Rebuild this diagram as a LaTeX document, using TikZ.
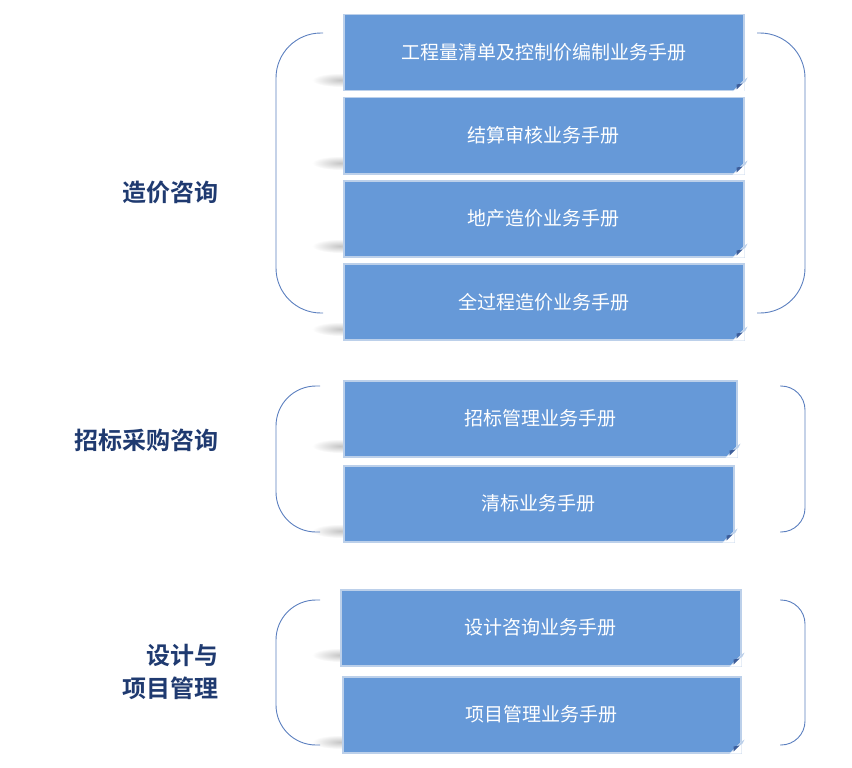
\documentclass[tikz,border=0pt]{standalone}
\usepackage{fontspec}
\newfontfamily\cjk{Noto Sans CJK SC}
\newfontfamily\cjkb{Noto Sans CJK SC Bold}
\begin{document}
\begin{tikzpicture}[x=1pt,y=-1pt,
  mbox/.style={draw=boxedge,line width=1.5pt,fill=boxfill,text=white,font=\cjk\fontsize{19}{22}\selectfont,inner sep=0pt,anchor=north west},
  brk/.style={draw=brk,line width=0.9pt},
  lbl/.style={text=lblc,font=\cjkb\fontsize{24}{30}\selectfont,align=right,anchor=east}]
\definecolor{boxfill}{HTML}{6699D8}
\definecolor{boxedge}{HTML}{BCD0EA}
\definecolor{brk}{HTML}{5B7FBF}
\definecolor{lblc}{HTML}{1F3A70}
\definecolor{foldc}{HTML}{3E5E9A}
\useasboundingbox (0,0) rectangle (852,768);
\foreach \y in {80,163,246,329,446,531,655,742}{
  \shade[inner color=gray!45,outer color=white] (340,\y) ellipse (28 and 7);
}
\newcommand\mb[6]{%
  \node[mbox,minimum width=#4,minimum height=#5] (#1) at (#2,#3) {#6};
  \fill[white] (#1.south east) -- ++(-12,0) -- ++(12,-12) -- cycle;
  \fill[boxedge] ($(#1.south east)+(-12,0)$) -- ++(12,-12) -- ++(3,-2) -- ++(-2,4) -- cycle;
  \fill[foldc] ($(#1.south east)+(-8,-2)$) -- ++(6,-6) -- ++(-6,1) -- cycle;
}
\usetikzlibrary{calc}
\mb{b1}{343}{14}{400}{76}{工程量清单及控制价编制业务手册}
\mb{b2}{343}{97}{400}{76}{结算审核业务手册}
\mb{b3}{343}{180}{400}{76}{地产造价业务手册}
\mb{b4}{343}{263}{400}{76}{全过程造价业务手册}
\mb{b5}{343}{380}{393}{76}{招标管理业务手册}
\mb{b6}{343}{465}{390}{76}{清标业务手册}
\mb{b7}{340}{589}{400}{76}{设计咨询业务手册}
\mb{b8}{342}{676}{398}{76}{项目管理业务手册}
\draw[brk,rounded corners=45] (323,33) -| (276,313) -- (323,313);
\draw[brk,rounded corners=45] (757,33) -| (805,313) -- (757,313);
\draw[brk,rounded corners=40] (320,386) -| (276,532) -- (320,532);
\draw[brk,rounded corners=24] (780,386) -| (805,532) -- (780,532);
\draw[brk,rounded corners=40] (320,600) -| (276,745) -- (320,745);
\draw[brk,rounded corners=24] (780,600) -| (805,745) -- (780,745);
\node[lbl] (l1) at (222,192) {造价咨询};
\node[lbl] (l2) at (222,440) {招标采购咨询};
\node[lbl,font=\cjkb\fontsize{24}{33}\selectfont] (l3) at (222,672) {设计与\\项目管理};
\end{tikzpicture}
\end{document}
